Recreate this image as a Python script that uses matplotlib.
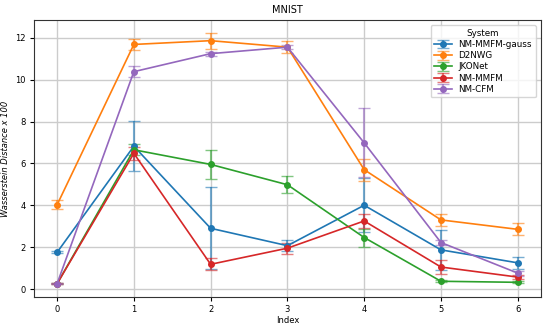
import matplotlib
matplotlib.use("Agg")
import matplotlib.pyplot as plt
import numpy as np

# data
idx = [0, 1, 2, 3, 4, 5, 6]
systems = ["NM-MMFM-gauss", "D2NWG", "JKONet", "NM-MMFM", "NM-CFM"]
colors  = ["#1f77b4", "#ff7f0e", "#2ca02c", "#d62728", "#9467bd"]

gauss_mean = [1.75, 6.82, 2.90, 2.07, 4.00, 1.87, 1.25]
gauss_err  = [0.05, 1.20, 1.95, 0.25, 1.30, 0.95, 0.27]
d2nwg_mean = [4.02, 11.68, 11.86, 11.55, 5.70, 3.30, 2.85]
d2nwg_err  = [0.22, 0.25, 0.38, 0.30, 0.52, 0.27, 0.28]
jko_mean   = [0.25, 6.65, 5.95, 4.98, 2.46, 0.37, 0.32]
jko_err    = [0.03, 0.27, 0.70, 0.40, 0.43, 0.05, 0.05]
mmfm_mean  = [0.25, 6.48, 1.18, 1.95, 3.25, 1.05, 0.57]
mmfm_err   = [0.03, 0.30, 0.28, 0.27, 0.35, 0.33, 0.10]
cfm_mean   = [0.25, 10.38, 11.24, 11.55, 6.98, 2.22, 0.76]
cfm_err    = [0.03, 0.27, 0.10, 0.10, 1.65, 0.12, 0.12]

means = [gauss_mean, d2nwg_mean, jko_mean, mmfm_mean, cfm_mean]
errs  = [gauss_err, d2nwg_err, jko_err, mmfm_err, cfm_err]

plt.rcParams["font.size"] = 6
fig, ax = plt.subplots(figsize=(5.49, 3.3), dpi=100)
fig.subplots_adjust(left=0.062, right=0.985, top=0.939, bottom=0.1)

for name, m, e, c in zip(systems, means, errs, colors):
    eb = ax.errorbar(idx, m, yerr=e, color=c, marker="o", markersize=4,
                     linewidth=1.2, capsize=4, elinewidth=1.5, label=name)
    for art in eb[1]: art.set_alpha(0.6)
    for art in eb[2]: art.set_alpha(0.6)

ax.set_title("MNIST", fontsize=7, pad=5)
ax.set_xlabel("Index", fontsize=6, labelpad=1)
ax.set_ylabel("Wasserstein Distance x 100", fontsize=6, style="italic", labelpad=4)
ax.set_xticks(idx)
ax.grid(True, color="#cccccc", linewidth=1)
ax.set_axisbelow(True)
for s in ax.spines.values():
    s.set_color("#333333")
ax.tick_params(labelsize=6, length=3, pad=3)
ax.legend(title="System", loc="upper right", fontsize=6.3, title_fontsize=6.3,
          labelspacing=0.25, borderaxespad=0.6)

plt.savefig("out.png", dpi=100)
